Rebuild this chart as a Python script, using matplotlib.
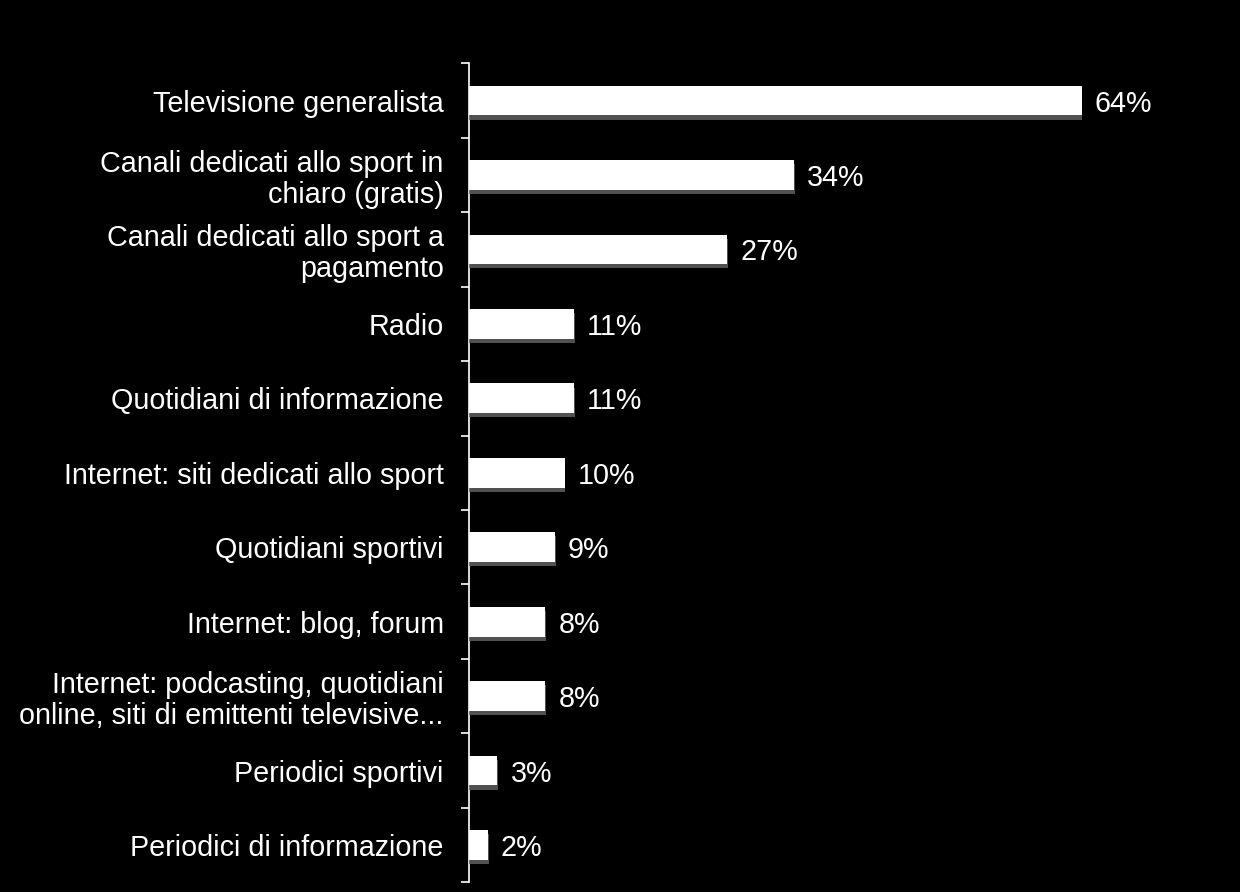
import matplotlib
matplotlib.use('Agg')

import matplotlib.pyplot as plt
import matplotlib.patheffects as pe
import numpy as np

# Data
categories = [
    "Televisione generalista",
    "Canali dedicati allo sport in\nchiaro (gratis)",
    "Canali dedicati allo sport a\npagamento",
    "Radio",
    "Quotidiani di informazione",
    "Internet: siti dedicati allo sport",
    "Quotidiani sportivi",
    "Internet: blog, forum",
    "Internet: podcasting, quotidiani\nonline, siti di emittenti televisive...",
    "Periodici sportivi",
    "Periodici di informazione",
]
values = [64, 34, 27, 11, 11, 10, 9, 8, 8, 3, 2]
value_labels = ["64%", "34%", "27%", "11%", "11%", "10%", "9%", "8%", "8%", "3%", "2%"]

plt.rcParams['font.family'] = ['Liberation Sans', 'DejaVu Sans']

fig = plt.figure(figsize=(12.4, 8.92), dpi=100, facecolor='black')
ax = fig.add_axes([0.378, 0.011, 0.618, 0.918], facecolor='black')

y = np.arange(len(categories))
bars = ax.barh(y, values, height=0.4, color='white', zorder=3)
# soft grey shadow under each bar
for b in bars:
    b.set_path_effects([pe.SimplePatchShadow(offset=(0.5, -3), shadow_rgbFace='#666666', alpha=0.8),
                        pe.Normal()])

for yi, v, lab in zip(y, values, value_labels):
    ax.text(v + 1.35, yi, lab, va='center_baseline', ha='left', color='white', fontsize=20.7)

ax.set_xlim(0, 80)
ax.set_ylim(len(categories) - 0.5, -0.5)

ax.set_yticks(y)
ax.set_yticklabels(categories, fontsize=20.7, color='white', ha='right', linespacing=1.12)
ax.tick_params(axis='y', which='major', length=0, pad=18)
ax.set_yticks(np.arange(-0.5, len(categories), 1.0), minor=True)
ax.tick_params(axis='y', which='minor', length=6, width=1.2, color='white', direction='out')

ax.set_xticks([])
for s in ['top', 'right', 'bottom']:
    ax.spines[s].set_visible(False)
ax.spines['left'].set_color('white')
ax.spines['left'].set_linewidth(1.2)

plt.savefig("out.png", dpi=100, facecolor='black')
plt.close()
